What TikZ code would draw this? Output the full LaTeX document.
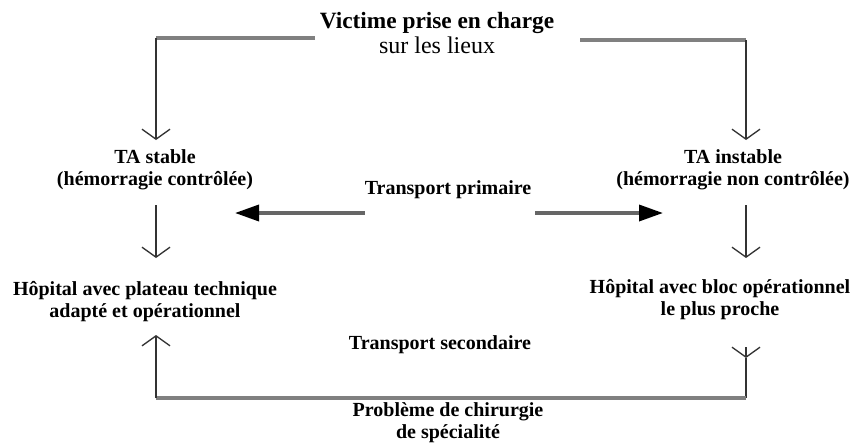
\documentclass[tikz,border=0pt]{standalone}
\usepackage{fontspec}
\setmainfont{Liberation Serif}
\usetikzlibrary{arrows.meta}
\begin{document}
\begin{tikzpicture}[x=0.75pt,y=-0.75pt,
  lbl/.style={align=center,font=\bfseries\fontsize{15}{16.5}\selectfont,inner sep=0pt},
  grayline/.style={draw=black!50,line width=2.8pt},
  vline/.style={draw=black!80,line width=1.2pt},
  openhead/.style={-{Straight Barb[length=7.5pt,width=21pt,line width=1pt]}},
  fillarrow/.style={draw=black!60,line width=2.6pt,-{Triangle[length=18pt,width=12pt,color=black]}}
]
\useasboundingbox (0,0) rectangle (854,443);
\fill[white] (0,0) rectangle (854,443);

% nodes
\node[align=center,inner sep=0pt] (victim) at (437,33)
  {{\bfseries\fontsize{17.5}{19.5}\selectfont Victime prise en charge}\\[1pt]
   {\fontsize{18}{19.5}\selectfont sur les lieux}};
\node[lbl] (stable) at (155,170) {TA stable\\(hémorragie contrôlée)};
\node[lbl] (unstable) at (733,170) {TA instable\\(hémorragie non contrôlée)};
\node[lbl] (hopl) at (145,302) {Hôpital avec plateau technique\\adapté et opérationnel};
\node[lbl] (hopr) at (720,300) {Hôpital avec bloc opérationnel\\le plus proche};
\node[lbl] (tp) at (448,190) {Transport primaire};
\node[lbl] (ts) at (440,345) {Transport secondaire};
\node[lbl] (pb) at (448,423) {Problème de chirurgie\\de spécialité};

% top connectors
\coordinate (vl) at (315,38);
\coordinate (vr) at (580,40);
\coordinate (tl) at (156,38);
\coordinate (tr) at (746,40);
\draw[grayline] (vl) -- (tl);
\draw[vline,openhead] (tl) -- (156,140);
\draw[grayline] (vr) -- (tr);
\draw[vline,openhead] (tr) -- (746,140);

% stable / unstable to hospitals
\draw[vline,openhead] (156,205) -- (156,258);
\draw[vline,openhead] (746,205) -- (746,258);

% transport primaire
\draw[fillarrow] (tp.west |- 0,213) -- (235,213);
\draw[fillarrow] (535,213) -- (663,213);

% bottom loop
\coordinate (bl) at (156,398);
\coordinate (br) at (746,398);
\draw[vline,openhead] (746,347) -- (746,358);
\draw[vline] (746,358) -- (br);
\draw[grayline] (br) -- (bl);
\draw[vline,openhead] (bl) -- (156,335);
\end{tikzpicture}
\end{document}
